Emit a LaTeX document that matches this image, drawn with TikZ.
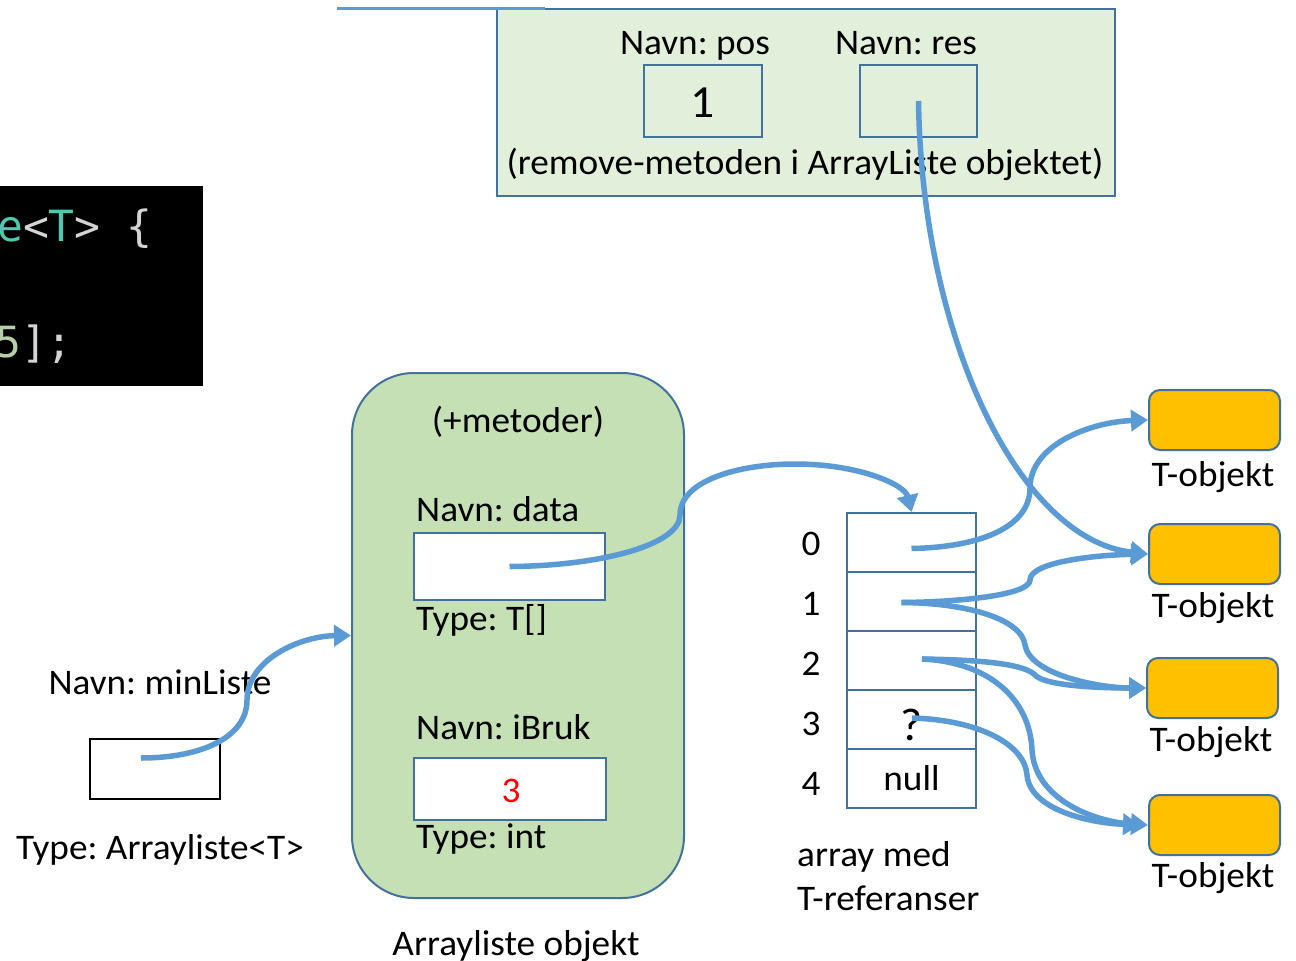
\documentclass[tikz,border=0pt]{standalone}
\usepackage{fontspec}
\setmainfont{Carlito}[FakeStretch=1.035]
\newfontfamily\codefont{DejaVu Sans Mono}
\usetikzlibrary{arrows.meta}
\definecolor{linkblue}{HTML}{5B9BD5}
\definecolor{frameblue}{HTML}{41719C}
\definecolor{palegreen}{HTML}{E2EFDA}
\definecolor{objgreen}{HTML}{C5E0B4}
\definecolor{tobj}{HTML}{FFC000}
\definecolor{codeteal}{HTML}{4EC9B0}
\definecolor{codegray}{HTML}{D4D4D4}
\definecolor{codenum}{HTML}{B5CEA8}
\frenchspacing
\begin{document}
\begin{tikzpicture}[x=1pt,y=-1pt,
  txt/.style={inner sep=0pt, font=\fontsize{36}{43}\selectfont},
  bigtxt/.style={inner sep=0pt, font=\fontsize{46}{52}\selectfont},
  varbox/.style={draw=frameblue, line width=2pt, inner sep=0pt},
  cell/.style={draw=frameblue, line width=2pt, fill=white, inner sep=0pt,
    minimum width=129pt, minimum height=59pt, font=\fontsize{36}{43}\selectfont},
  tobject/.style={draw=frameblue, line width=2pt, fill=tobj, rounded corners=11pt,
    minimum width=131pt, minimum height=60pt, inner sep=0pt},
  link/.style={draw=linkblue, line width=5.5pt, -{Triangle[length=17pt,width=21pt]}},
  code/.style={inner sep=0pt, anchor=base west, font=\codefont\fontsize{43}{50}\selectfont}]
\useasboundingbox (0,0) rectangle (1296,961);
\fill[white] (0,0) rectangle (1296,961);

% code excerpt on black
\fill[black] (0,186) rectangle (203,386);
\begin{scope}
  \clip (0,186) rectangle (203,386);
  \node[code] (c1) at (-3,241) {\textcolor{codeteal}{e}\textcolor{codegray}{<}\textcolor{codeteal}{T}\textcolor{codegray}{> \{}};
  \node[code] (c2) at (-5,357) {\textcolor{codenum}{5}\textcolor{codegray}{];}};
\end{scope}

% remove-method frame
\node[draw=frameblue, line width=2pt, fill=palegreen, minimum width=618pt, minimum height=187pt, inner sep=0pt] (frame) at (806,102.5) {};
\coordinate (la) at (337,8);
\coordinate (lb) at (545,8);
\draw[linkblue, line width=3pt] (la) -- (lb);
\node[txt, anchor=base] (lpos) at (695,54) {Navn: pos};
\node[txt, anchor=base] (lres) at (906,54) {Navn: res};
\node[varbox, minimum width=118pt, minimum height=72pt] (pos) at (703,101) {};
\node[bigtxt, anchor=base] (one) at (703,117) {1};
\node[varbox, minimum width=117pt, minimum height=72pt] (res) at (918.5,101) {};
\node[txt, anchor=base] (rm) at (805,174) {(remove-metoden i ArrayListe objektet)};

% variable minListe
\node[txt, anchor=base] (lml) at (160,694) {Navn: minListe};
\node[draw=black, line width=2pt, minimum width=130pt, minimum height=60pt, inner sep=0pt] (ml) at (155,769) {};
\node[txt, anchor=base] (tml) at (160,859) {Type: Arrayliste<T>};

% ArrayListe object
\node[draw=frameblue, line width=2pt, fill=objgreen, rounded corners=62pt,
  minimum width=332pt, minimum height=525pt, inner sep=0pt] (arr) at (518,635.5) {};
\node[txt, anchor=base] (met) at (518,432) {(+metoder)};
\node[txt, anchor=base west] (ldata) at (416,521) {Navn: data};
\node[varbox, fill=white, minimum width=191pt, minimum height=67pt] (dbox) at (509.5,566.5) {};
\node[txt, anchor=base west] (tdata) at (416,630) {Type: T[]};
\node[txt, anchor=base west] (lib) at (416,739) {Navn: iBruk};
\node[varbox, fill=white, minimum width=192pt, minimum height=62pt] (ibox) at (510,789) {};
\node[txt, anchor=base, text=red] (three) at (511,802) {3};
\node[txt, anchor=base west] (tib) at (416,848) {Type: int};
\node[txt, anchor=base] (aobj) at (516,955) {Arrayliste objekt};

% array of T references
\node[cell] (r0) at (911.5,542.5) {};
\node[cell] (r1) at (911.5,601.5) {};
\node[cell] (r2) at (911.5,660.5) {};
\node[cell] (r3) at (911.5,719.5) {};
\node[cell] (r4) at (911.5,778.5) {null};
\node[bigtxt, anchor=base] (q) at (912,740) {?};
\foreach \i/\y in {0/555,1/615,2/675,3/735,4/795}
  \node[txt, anchor=base] (ix\i) at (811,\y) {\i};
\node[txt, anchor=base west] (am1) at (797,866) {array med};
\node[txt, anchor=base west] (am2) at (797,910) {T-referanser};

% T objects
\node[tobject] (t1) at (1214.5,420) {};
\node[tobject] (t2) at (1214.5,554) {};
\node[tobject] (t3) at (1212.5,688) {};
\node[tobject] (t4) at (1214.5,825) {};
\node[txt, anchor=base] (lt1) at (1213,486) {T-objekt};
\node[txt, anchor=base] (lt2) at (1213,617) {T-objekt};
\node[txt, anchor=base] (lt3) at (1211,751) {T-objekt};
\node[txt, anchor=base] (lt4) at (1213,887) {T-objekt};

% references
\draw[link] ([shift={(-14,-11)}]ml.center) .. controls (200,758) and (247,738) .. (247,700)
  .. controls (247,660) and (300,636) .. (arr.west);
\draw[link] (dbox.center) .. controls (600,566) and (680,545) .. (680,515)
  .. controls (680,480) and (740,464) .. (795,464)
  .. controls (860,464) and (905,485) .. (r0.north);
\draw[link] (res.center) .. controls (922,340) and (1020,540) .. (t2.west);
\draw[link] ([shift={(0,6)}]r0.center) .. controls (985,547) and (1030,525) .. (1030,488)
  .. controls (1030,445) and (1090,422) .. (t1.west);
\draw[link] ([shift={(-10,1)}]r1.center) .. controls (960,602) and (1030,595) .. (1030,580)
  .. controls (1030,562) and (1095,555) .. (t2.west);
\draw[link] ([shift={(-10,1)}]r1.center) .. controls (970,603) and (1022,620) .. (1025,645)
  .. controls (1030,675) and (1100,688) .. (t3.west);
\draw[link] ([shift={(10.5,-1.5)}]r2.center) .. controls (990,660) and (1025,665) .. (1035,675)
  .. controls (1045,686) and (1100,688) .. (t3.west);
\draw[link] ([shift={(10.5,-1.5)}]r2.center) .. controls (990,662) and (1030,700) .. (1032,750)
  .. controls (1035,800) and (1095,822) .. (t4.west);
\draw[link] ([shift={(0.5,-1.5)}]r3.center) .. controls (980,720) and (1025,745) .. (1027,775)
  .. controls (1030,810) and (1090,823) .. ([shift={(-8,0)}]t4.west);
\end{tikzpicture}
\end{document}
